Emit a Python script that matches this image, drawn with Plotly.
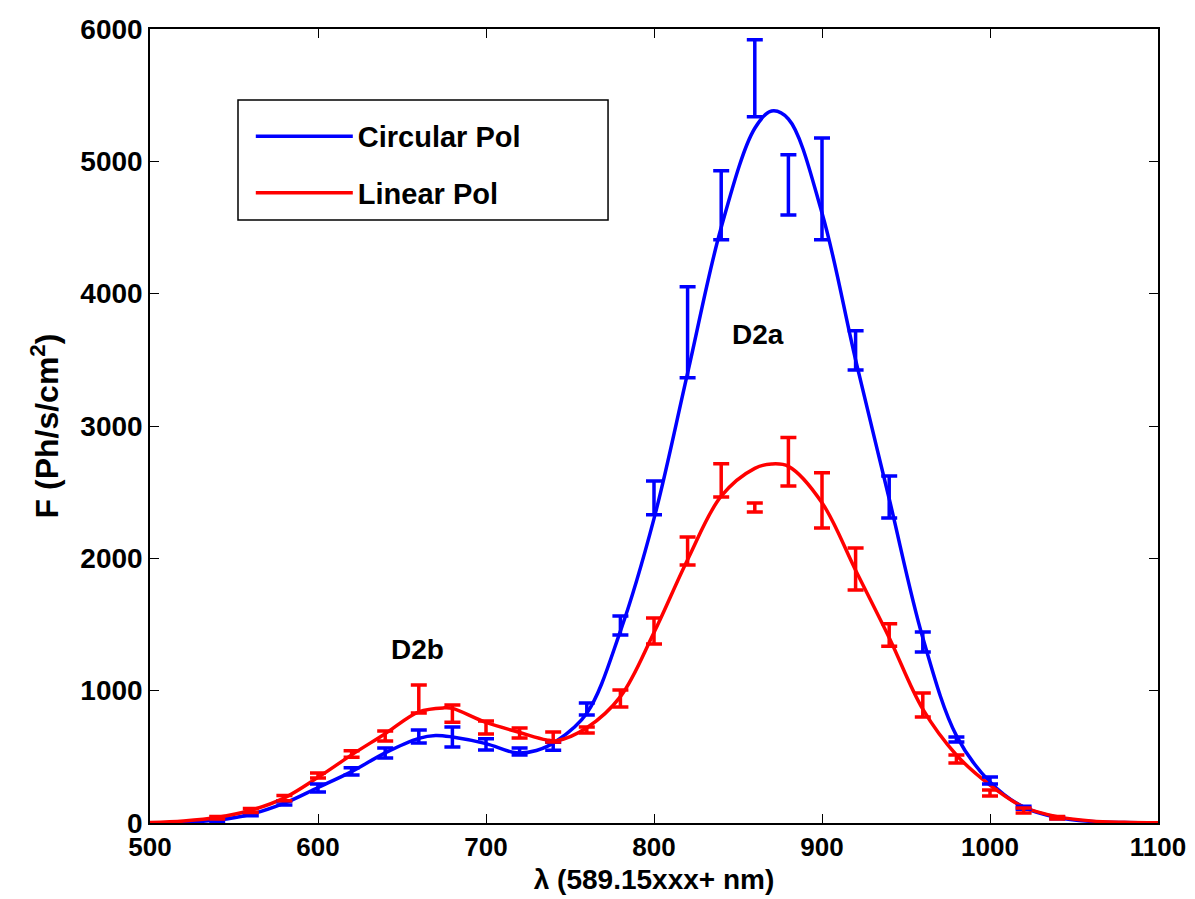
import plotly.graph_objects as go

# measured points (wavelength offset, flux) with error bars
x_pts = [540, 560, 580, 600, 620, 640, 660, 680, 700, 720, 740, 760, 780,
         800, 820, 840, 860, 880, 900, 920, 940, 960, 980, 1000, 1020, 1040]
circ_pts = [22, 65, 151, 265, 390, 529, 654, 650, 594, 540, 580, 862, 1493,
            2457, 3708, 4668, 5627, 4822, 4792, 3571, 2464, 1368, 631, 321, 115, 40]
circ_err = [8, 10, 15, 30, 27, 38, 49, 76, 42, 26, 30, 45, 72,
            128, 344, 260, 291, 227, 385, 148, 159, 76, 19, 27, 12, 8]
lin_pts = [40, 95, 188, 359, 521, 658, 937, 827, 722, 680, 650, 703, 941,
           1451, 2056, 2589, 2385, 2730, 2438, 1920, 1420, 892, 484, 227, 95, 40]
lin_err = [10, 15, 20, 19, 25, 38, 106, 65, 49, 38, 38, 23, 64,
           98, 106, 125, 34, 183, 208, 159, 85, 91, 30, 23, 19, 10]

# fitted curves
circ_fit_x = [500, 520, 540, 560, 580, 600, 620, 640, 660, 670, 680, 700, 718,
              730, 742, 760, 780, 800, 820, 840, 860, 870, 880, 900, 920, 940,
              960, 980, 1000, 1020, 1040, 1060, 1080, 1100]
circ_fit_y = [1, 6, 22, 66, 150, 268, 388, 530, 640, 662, 650, 600, 530,
              548, 620, 830, 1450, 2300, 3400, 4500, 5250, 5380, 5320, 4610, 3500, 2450,
              1400, 660, 310, 120, 42, 12, 3, 1]
lin_fit_x = [500, 520, 540, 560, 580, 600, 620, 640, 660, 675, 680, 700, 720,
             736, 742, 760, 780, 800, 820, 840, 860, 870, 880, 900, 920, 940,
             960, 980, 1000, 1020, 1040, 1060, 1080, 1100]
lin_fit_y = [4, 16, 42, 96, 190, 345, 515, 675, 840, 870, 866, 760, 684,
             628, 622, 720, 955, 1440, 1990, 2470, 2680, 2713, 2695, 2420, 1910, 1400,
             860, 514, 287, 121, 48, 16, 5, 1]

x_ticks = [500, 600, 700, 800, 900, 1000, 1100]
y_ticks = [0, 1000, 2000, 3000, 4000, 5000, 6000]

BLUE = "#0000ff"
RED = "#ff0000"
FONT = "Liberation Sans"

fig = go.Figure()

fig.add_trace(go.Scatter(x=circ_fit_x, y=circ_fit_y, mode="lines", name="Circular Pol",
                         legendgroup="c",
                         line=dict(color=BLUE, width=3.5, shape="spline", smoothing=1.0)))
fig.add_trace(go.Scatter(x=lin_fit_x, y=lin_fit_y, mode="lines", name="Linear Pol",
                         legendgroup="l",
                         line=dict(color=RED, width=3.5, shape="spline", smoothing=1.0)))

fig.add_trace(go.Scatter(x=x_pts, y=circ_pts, mode="markers", showlegend=False,
                         legendgroup="c",
                         marker=dict(size=1, color=BLUE),
                         error_y=dict(type="data", array=circ_err, visible=True,
                                      color=BLUE, thickness=3.5, width=8)))
fig.add_trace(go.Scatter(x=x_pts, y=lin_pts, mode="markers", showlegend=False,
                         legendgroup="l",
                         marker=dict(size=1, color=RED),
                         error_y=dict(type="data", array=lin_err, visible=True,
                                      color=RED, thickness=3.5, width=8)))

fig.add_annotation(x=862, y=3690, text="<b>D2a</b>", showarrow=False,
                   font=dict(family=FONT, size=28, color="black"))
fig.add_annotation(x=659, y=1310, text="<b>D2b</b>", showarrow=False,
                   font=dict(family=FONT, size=28, color="black"))

# legend frame
fig.add_shape(type="rect", xref="paper", yref="paper",
              x0=0.0873, x1=0.4544, y0=0.7594, y1=0.9106,
              line=dict(color="black", width=1.5), fillcolor="white", layer="above")

axis_common = dict(showline=True, linecolor="black", linewidth=1.5, mirror="ticks",
                   ticks="inside", ticklen=9, tickwidth=1, tickcolor="black",
                   showgrid=False, zeroline=False)

fig.update_xaxes(range=[500, 1100], tickvals=x_ticks,
                 tickfont=dict(family=FONT, size=26, color="black", weight="bold"),
                 title=dict(text="<b>λ (589.15xxx+ nm)</b>", standoff=8,
                            font=dict(family=FONT, size=28, color="black")),
                 **axis_common)
fig.update_yaxes(range=[0, 6000], tickvals=y_ticks,
                 tickfont=dict(family=FONT, size=28, color="black", weight="bold"),
                 title=dict(text="<b>F (Ph/s/cm<sup>2</sup>)</b>", standoff=12,
                            font=dict(family=FONT, size=32, color="black")),
                 **axis_common)

fig.update_layout(
    width=1187, height=891,
    margin=dict(l=142, r=37, t=21, b=76, autoexpand=False),
    plot_bgcolor="white", paper_bgcolor="white",
    legend=dict(x=0.100, y=0.897, xanchor="left", yanchor="top",
                bgcolor="rgba(0,0,0,0)", borderwidth=0,
                font=dict(family=FONT, size=29, color="black", weight="bold"),
                itemwidth=97, tracegroupgap=16),
    showlegend=True,
)

fig.write_html("out.html")
